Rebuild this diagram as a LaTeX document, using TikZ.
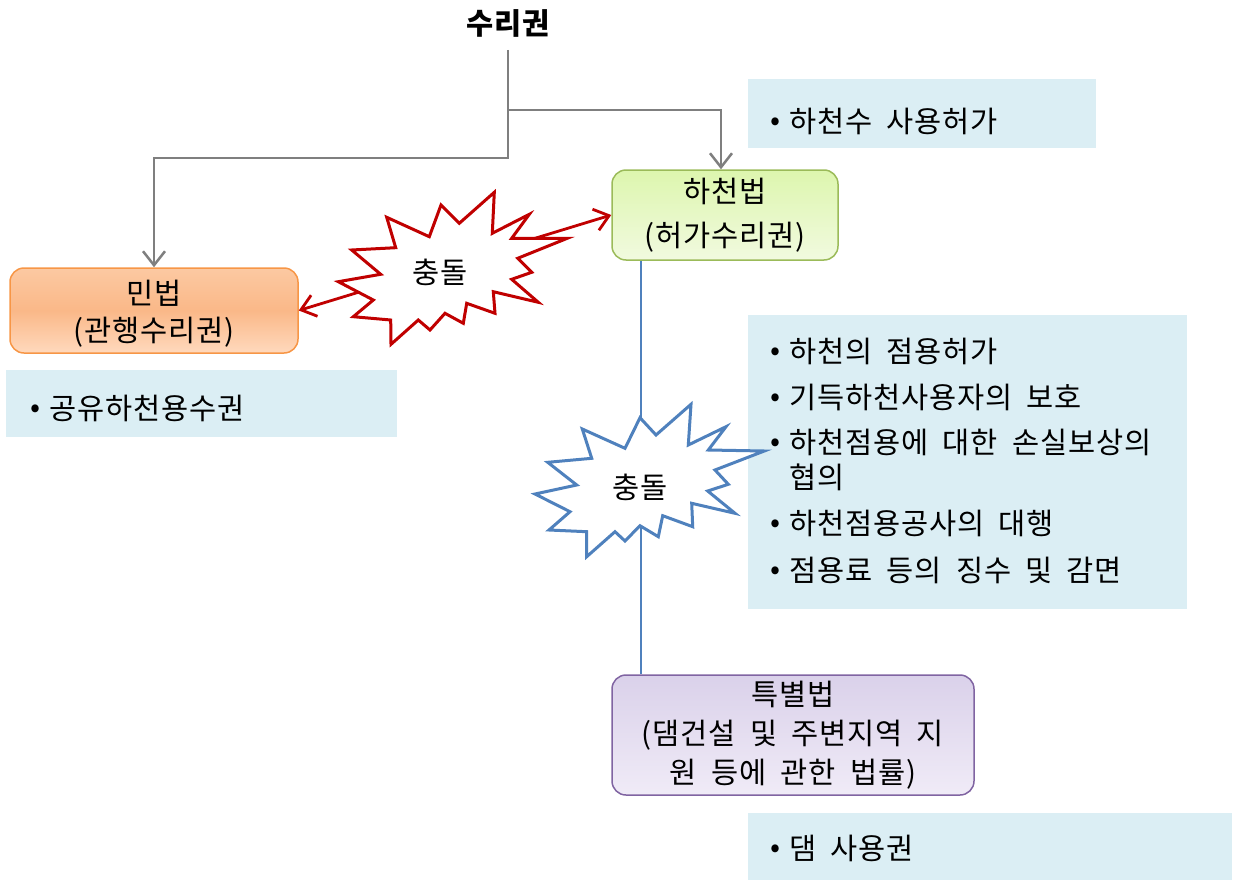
\documentclass[tikz,border=0pt]{standalone}
\usepackage{fontspec}
\setmainfont{Noto Sans CJK KR}[WordSpace=1.9,LetterSpace=3]
\usetikzlibrary{arrows.meta}
\definecolor{lblue}{HTML}{DBEEF4}
\definecolor{cgray}{HTML}{7F7F7F}
\definecolor{cred}{HTML}{C00000}
\definecolor{cblue}{HTML}{4F81BD}
\definecolor{oborder}{HTML}{F79646}
\definecolor{gborder}{HTML}{9BBB59}
\definecolor{pborder}{HTML}{8064A2}
\definecolor{otop}{HTML}{FCC9A2}
\definecolor{obot}{HTML}{FFD9BD}
\definecolor{omid}{HTML}{FAB888}
\definecolor{gtop}{HTML}{DDF6AE}
\definecolor{gbot}{HTML}{F1FADF}
\definecolor{ptop}{HTML}{DAD1EA}
\definecolor{pbot}{HTML}{F0EBF7}
\newcommand\kf{\fontsize{29.5}{40}\selectfont}
\newcommand\bul{\makebox[19pt][l]{\raisebox{2pt}{•}}}
\tikzset{
  law/.style={draw, line width=1.5pt, rounded corners=14pt, align=center, inner sep=0pt},
  infobox/.style={fill=lblue, draw=none, inner sep=0pt},
  bultext/.style={anchor=base west, inner sep=0pt, font=\kf},
  gconn/.style={draw=cgray, line width=2.5pt, -{Straight Barb[length=14pt,width=22pt]}},
  rconn/.style={draw=cred, line width=2.8pt, {Straight Barb[length=14pt,width=22pt]}-{Straight Barb[length=14pt,width=22pt]}},
  bconn/.style={draw=cblue, line width=2pt},
  burst/.style={fill=white, line width=3pt, line join=miter, miter limit=10}
}
\begin{document}
\begin{tikzpicture}[x=1pt,y=-1pt]
\useasboundingbox (0,0) rectangle (1238,880);

% info boxes
\node[infobox, minimum width=348pt, minimum height=69pt] (info1) at (922,113.5) {};
\node[infobox, minimum width=391pt, minimum height=67pt] (info2) at (201.5,403.5) {};
\node[infobox, minimum width=439pt, minimum height=294pt] (info3) at (967.5,462) {};
\node[infobox, minimum width=484pt, minimum height=67pt] (info4) at (990,846.5) {};

\node[bultext] (t1) at (770,132.5) {\bul 하천수 사용허가};
\node[bultext] (t2) at (30,419.5) {\bul 공유하천용수권};
\node[bultext] (t3a) at (770,362.5) {\bul 하천의 점용허가};
\node[bultext] (t3b) at (770,408.5) {\bul 기득하천사용자의 보호};
\node[bultext] (t3c) at (770,453.5) {\bul 하천점용에 대한 손실보상의};
\node[bultext] (t3d) at (770,488.5) {\hspace*{19pt}협의};
\node[bultext] (t3e) at (770,534.5) {\bul 하천점용공사의 대행};
\node[bultext] (t3f) at (770,581.5) {\bul 점용료 등의 징수 및 감면};
\node[bultext] (t4) at (770,859.5) {\bul 댐 사용권};

% title
\node[font=\kf\bfseries, inner sep=0pt] (title) at (508,23) {수리권};
\coordinate (ttop) at (508,50);
\coordinate (split) at (508,110);

% law boxes
\node[law, draw=oborder, minimum width=288pt, minimum height=85pt,
      top color=otop, bottom color=obot, middle color=omid] (minbox) at (154,310.5) {};
\node[font=\fontsize{29.5}{37}\selectfont, align=center, inner sep=0pt] (mintxt) at (154,313.5) {민법\\(관행수리권)};
\node[law, draw=gborder, minimum width=226pt, minimum height=90pt, font=\fontsize{29.5}{44}\selectfont,
      top color=gtop, bottom color=gbot] (hacheon) at (725,215) {하천법\\(허가수리권)};
\node[law, draw=pborder, minimum width=362pt, minimum height=120pt, font=\fontsize{29.5}{39}\selectfont,
      top color=ptop, bottom color=pbot] (teuk) at (793,735) {특별법\\(댐건설 및 주변지역 지\\원 등에 관한 법률)};

% gray connectors
\draw[gconn] (ttop) -- (508,158) -| (minbox.north);
\draw[gconn] (split) -| ([xshift=-4pt]hacheon.north);

% blue line
\draw[bconn] ([xshift=-84pt]hacheon.south) -- ([xshift=-152pt]teuk.north);

% red double arrow
\draw[rconn] (minbox.east) -- (hacheon.west);

% red burst
\draw[burst, draw=cred] (494.3,192.3) -- (492.3,233.3) -- (529.3,214.3) -- (511.7,238.3) -- (567.3,238.3) -- (517.7,258.3) -- (531.7,272.3) -- (511.7,279.3) -- (538.3,302.3) -- (493.3,291.7) -- (495,313.3) -- (466.7,303.3) -- (463.3,323.3) -- (445,313.3) -- (430,330) -- (418.3,320) -- (391,344.3) -- (390.7,320) -- (353.3,316.7) -- (373.3,300) -- (338.3,281.7) -- (380.7,274.3) -- (351.7,250) -- (395.7,247.7) -- (386.7,217.3) -- (429.3,236.7) -- (441,205) -- (459.3,223.3) -- cycle;
\node[font=\kf, inner sep=0pt] (c1) at (440,272) {충돌};

% blue burst
\draw[burst, draw=cblue] (691,404.3) -- (688.3,445) -- (726,426.7) -- (708.3,450) -- (764.3,451) -- (715,470) -- (728.3,484.3) -- (707.7,491) -- (735,513.3) -- (691.7,503.3) -- (692.7,526.7) -- (662.7,515.7) -- (658.3,536.7) -- (640,525.7) -- (625,541) -- (615,531.7) -- (586.7,556.7) -- (586.7,531.7) -- (549,530) -- (570,511.7) -- (535,494) -- (576.7,485) -- (547.7,462.3) -- (591.7,458.3) -- (582.3,429) -- (625,448.3) -- (640,417.7) -- (656,435) -- cycle;
\node[font=\kf, inner sep=0pt] (c2) at (640,487) {충돌};
\end{tikzpicture}
\end{document}
